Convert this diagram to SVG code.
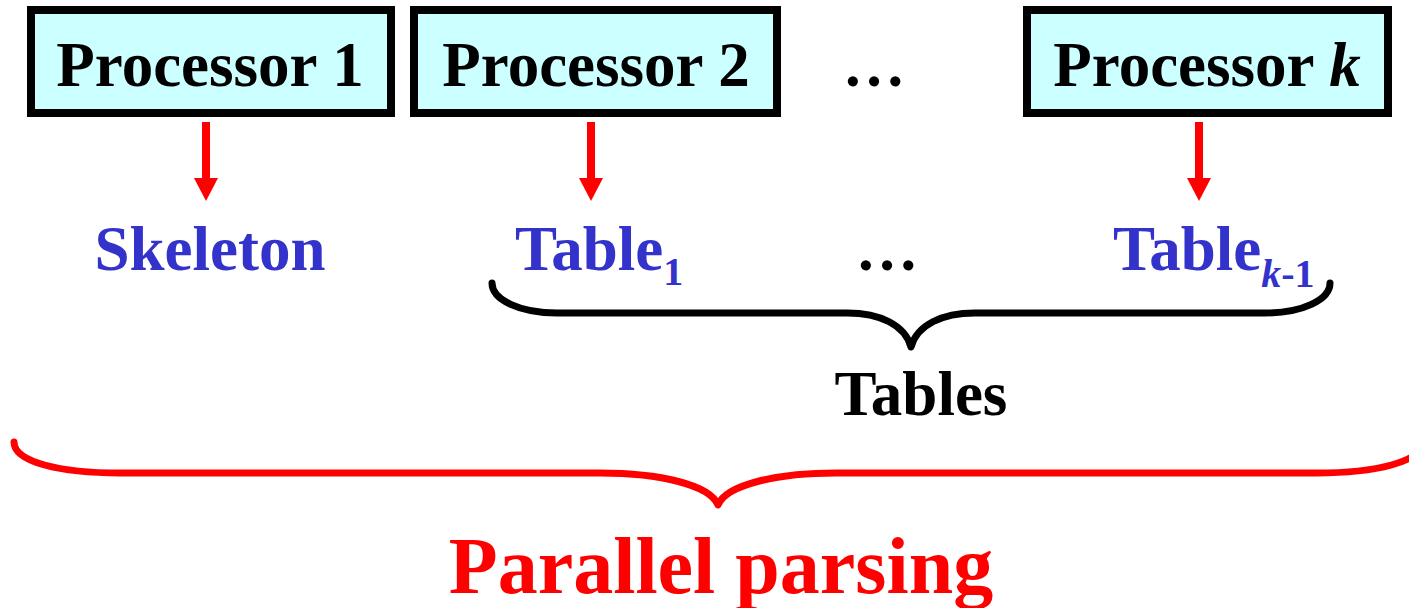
<svg xmlns="http://www.w3.org/2000/svg" width="1409" height="608" viewBox="0 0 1409 608">
  <style>
    text { font-family: "Liberation Serif", "Times New Roman", serif; font-weight: bold; }
    .proc rect { fill: #CCFFFF; stroke: #000000; stroke-width: 8; }
    .proc text { font-size: 63px; fill: #000000; text-anchor: middle; }
    .blue { fill: #3333CC; font-size: 63px; }
    .sub { font-size: 40px; }
    .dots { font-size: 63px; fill: #000000; text-anchor: middle; }
    .arrow { stroke: #FF0000; stroke-width: 8; fill: none; marker-end: url(#head); }
    .brace { fill: none; stroke-linecap: round; stroke-linejoin: round; }
  </style>
  <defs>
    <marker id="head" viewBox="0 0 23 24" markerWidth="23" markerHeight="24" markerUnits="userSpaceOnUse" refX="0" refY="12" orient="auto">
      <path d="M0,0 L23,12 L0,24 Z" fill="#FF0000"/>
    </marker>
  </defs>
  <rect width="1409" height="608" fill="#FFFFFF"/>

  <g id="processor1" class="proc">
    <rect x="31" y="10" width="360" height="103"/>
    <text x="210" y="86">Processor 1</text>
  </g>
  <g id="processor2" class="proc">
    <rect x="414" y="10" width="363" height="103"/>
    <text x="596" y="86">Processor 2</text>
  </g>
  <g id="processork" class="proc">
    <rect x="1027" y="10" width="361" height="103"/>
    <text x="1207" y="86">Processor <tspan font-style="italic">k</tspan></text>
  </g>
  <text id="dots-top" class="dots" x="874" y="86">…</text>

  <g id="connectors">
    <line class="arrow" x1="206" y1="122" x2="206" y2="178"/>
    <line class="arrow" x1="591" y1="122" x2="591" y2="178"/>
    <line class="arrow" x1="1199" y1="122" x2="1199" y2="178"/>
  </g>

  <g id="skeleton">
    <text class="blue" x="210" y="270" text-anchor="middle">Skeleton</text>
  </g>
  <g id="table1">
    <text class="blue" x="515" y="270">Table<tspan class="sub" dy="15">1</tspan></text>
  </g>
  <text id="dots-mid" class="dots" x="887" y="270">…</text>
  <g id="tablek1">
    <text class="blue" x="1113" y="270">Table<tspan class="sub" dy="17"><tspan font-style="italic">k</tspan>-1</tspan></text>
  </g>

  <g id="tables-brace">
    <path class="brace" stroke="#000000" stroke-width="7" d="M492,283 C492,300 520,313 557,313 L847,313 C880,313 905,325 911,347 C917,325 942,313 975,313 L1265,313 C1302,313 1330,300 1330,283"/>
    <text x="921" y="415" font-size="63" fill="#000000" text-anchor="middle">Tables</text>
  </g>

  <g id="parallel-brace">
    <path class="brace" stroke="#FF0000" stroke-width="7" d="M14,442 C14,462 60,473 120,473 L600,473 C660,473 710,485 718,505 C726,485 776,473 836,473 L1316,473 C1376,473 1422,462 1422,442"/>
    <text x="721" y="593" font-size="80" fill="#FF0000" text-anchor="middle">Parallel parsing</text>
  </g>
</svg>
